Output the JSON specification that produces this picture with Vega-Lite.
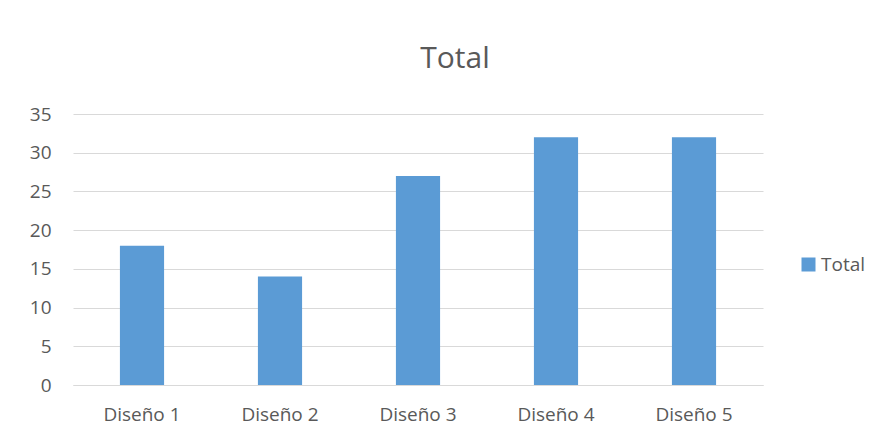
{
  "$schema": "https://vega.github.io/schema/vega-lite/v6.json",
  "autosize": "none",
  "width": 690,
  "height": 271,
  "padding": {"left": 73, "top": 114, "right": 122, "bottom": 52},
  "background": "white",
  "title": {
    "text": "Total",
    "fontSize": 30,
    "font": "Open Sans",
    "fontWeight": "normal",
    "color": "#595959",
    "anchor": "middle",
    "frame": "group",
    "dx": 37,
    "offset": 31
  },
  "data": {
    "values": [
      {"design": "Diseño 1", "series": "Total", "value": 18},
      {"design": "Diseño 2", "series": "Total", "value": 14},
      {"design": "Diseño 3", "series": "Total", "value": 27},
      {"design": "Diseño 4", "series": "Total", "value": 32},
      {"design": "Diseño 5", "series": "Total", "value": 32}
    ]
  },
  "mark": {"type": "bar", "color": "#5b9bd5"},
  "encoding": {
    "x": {
      "field": "design",
      "type": "nominal",
      "sort": null,
      "scale": {"paddingInner": 0.68, "paddingOuter": 0.34},
      "axis": {
        "title": null,
        "labelAngle": 0,
        "labelFont": "Open Sans",
        "labelFontSize": 19,
        "labelColor": "#595959",
        "labelPadding": 20,
        "ticks": false,
        "domain": true,
        "domainColor": "#d9d9d9",
        "domainWidth": 1
      }
    },
    "y": {
      "field": "value",
      "type": "quantitative",
      "scale": {"domain": [0, 35], "nice": false},
      "axis": {
        "title": null,
        "values": [0, 5, 10, 15, 20, 25, 30, 35],
        "labelFont": "Open Sans",
        "labelFontSize": 19,
        "labelColor": "#595959",
        "labelPadding": 22,
        "ticks": false,
        "domain": false,
        "grid": true,
        "gridColor": "#d9d9d9",
        "gridWidth": 1
      }
    },
    "fill": {
      "field": "series",
      "type": "nominal",
      "scale": {"range": ["#5b9bd5"]},
      "legend": {
        "title": null,
        "orient": "none",
        "legendX": 726,
        "legendY": 141,
        "symbolType": "square",
        "symbolSize": 196,
        "symbolStrokeWidth": 0,
        "labelFont": "Open Sans",
        "labelFontSize": 19,
        "labelColor": "#595959",
        "labelOffset": 3
      }
    }
  },
  "config": {"view": {"stroke": null}}
}
